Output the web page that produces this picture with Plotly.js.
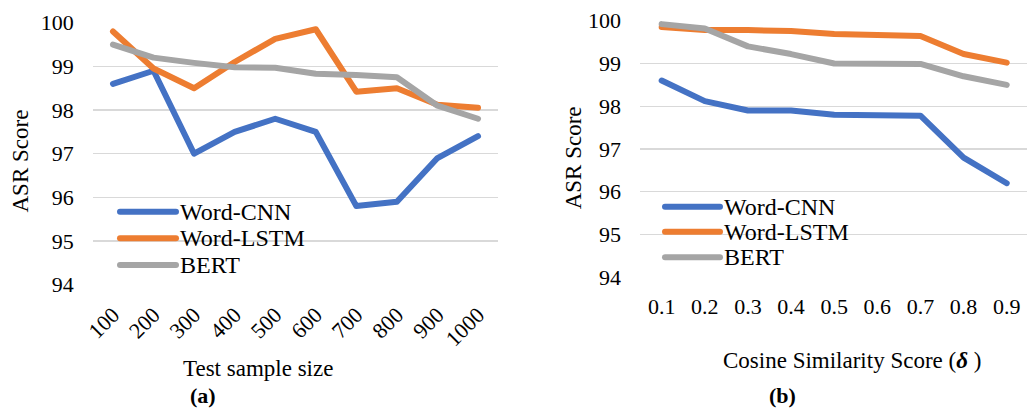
<!DOCTYPE html>
<html>
<head>
<meta charset="utf-8">
<script src="https://cdn.plot.ly/plotly-3.0.1.min.js"></script>
<style>
html,body{margin:0;padding:0;background:#fff;}
#chart{width:1027px;height:410px;}
.scatterlayer path.js-line{stroke-linejoin:round;stroke-linecap:round;}
.shapelayer path{stroke-linecap:round;}
</style>
</head>
<body>
<div id="chart"></div>
<script>
// ---- Data: panel (a) ----
const sampleSizes = ['100','200','300','400','500','600','700','800','900','1000'];
const cnnA  = [98.6, 98.9, 97.0, 97.5, 97.8, 97.5, 95.8, 95.9, 96.9, 97.4];
const lstmA = [99.8, 98.95, 98.5, 99.1, 99.63, 99.85, 98.42, 98.5, 98.12, 98.05];
const bertA = [99.5, 99.2, 99.08, 98.98, 98.97, 98.83, 98.8, 98.75, 98.1, 97.8];

// ---- Data: panel (b) ----
const cosineScores = ['0.1','0.2','0.3','0.4','0.5','0.6','0.7','0.8','0.9'];
const cnnB  = [98.6, 98.12, 97.9, 97.9, 97.8, 97.8, 97.78, 96.8, 96.2];
const lstmB = [99.85, 99.78, 99.78, 99.76, 99.69, 99.68, 99.64, 99.22, 99.02];
const bertB = [99.92, 99.82, 99.4, 99.22, 99.0, 98.99, 98.99, 98.7, 98.5];

const seriesNames = ['Word-CNN','Word-LSTM','BERT'];
const yTicks = [94, 95, 96, 97, 98, 99, 100];

const colors = ['#4472C4','#ED7D31','#A5A5A5'];
const FONT = '"Liberation Serif", "Times New Roman", Times, serif';
const W = 1027, H = 410;
const px = v => v / W;
const py = v => (H - v) / H;
const LW = 6;

function mk(x, y, i, xa, ya) {
  return {
    x: x, y: y, name: seriesNames[i], type: 'scatter', mode: 'lines',
    line: {color: colors[i], width: LW},
    xaxis: xa, yaxis: ya, cliponaxis: false, hoverinfo: 'skip', showlegend: false
  };
}

const traces = [
  mk(sampleSizes, cnnA, 0, 'x', 'y'),
  mk(sampleSizes, lstmA, 1, 'x', 'y'),
  mk(sampleSizes, bertA, 2, 'x', 'y'),
  mk(cosineScores, cnnB, 0, 'x2', 'y2'),
  mk(cosineScores, lstmB, 1, 'x2', 'y2'),
  mk(cosineScores, bertB, 2, 'x2', 'y2')
];

const yBase = {
  range: [94, 100], tickvals: yTicks, ticktext: yTicks.map(String),
  showgrid: true, gridcolor: '#D9D9D9', gridwidth: 1.3,
  zeroline: false, showline: false, ticks: '',
  tickfont: {family: FONT, size: 22, color: '#000'},
  ticklabelstandoff: 18, fixedrange: true
};
const xBase = {
  type: 'category', showgrid: false, zeroline: false, showline: false, ticks: '',
  tickfont: {family: FONT, size: 22, color: '#000'}, fixedrange: true
};

// legend placement (pixels)
const legendA = {x0: 120, x1: 176, tx: 178, rows: [211.7, 238.3, 265]};
const legendB = {x0: 665, x1: 720, tx: 722, rows: [206.7, 231.7, 257.3]};

const shapes = [];
const annotations = [];
[legendA, legendB].forEach(L => {
  seriesNames.forEach((name, i) => {
    shapes.push({type: 'line', xref: 'paper', yref: 'paper',
      x0: px(L.x0), x1: px(L.x1), y0: py(L.rows[i]), y1: py(L.rows[i]),
      line: {color: colors[i], width: LW}});
    annotations.push({text: name, xref: 'paper', yref: 'paper',
      x: px(L.tx), y: py(L.rows[i]), xanchor: 'left', yanchor: 'middle',
      showarrow: false, font: {family: FONT, size: 24, color: '#000'}});
  });
});

annotations.push(
  {text: 'ASR Score', x: px(20), y: py(161.5), xref: 'paper', yref: 'paper',
   textangle: -90, showarrow: false, xanchor: 'center', yanchor: 'middle',
   font: {family: FONT, size: 23, color: '#000'}},
  {text: 'ASR Score', x: px(573), y: py(158.3), xref: 'paper', yref: 'paper',
   textangle: -90, showarrow: false, xanchor: 'center', yanchor: 'middle',
   font: {family: FONT, size: 23, color: '#000'}},
  {text: 'Test sample size', x: px(258), y: py(368), xref: 'paper', yref: 'paper',
   showarrow: false, xanchor: 'center', yanchor: 'middle',
   font: {family: FONT, size: 23, color: '#000'}},
  {text: '<b>(a)</b>', x: px(203), y: py(395), xref: 'paper', yref: 'paper',
   showarrow: false, xanchor: 'center', yanchor: 'middle',
   font: {family: FONT, size: 22, color: '#000'}},
  {text: 'Cosine Similarity Score (<b><i>δ</i></b> )', x: px(852), y: py(360), xref: 'paper', yref: 'paper',
   showarrow: false, xanchor: 'center', yanchor: 'middle',
   font: {family: FONT, size: 23, color: '#000'}},
  {text: '<b>(b)</b>', x: px(782), y: py(395), xref: 'paper', yref: 'paper',
   showarrow: false, xanchor: 'center', yanchor: 'middle',
   font: {family: FONT, size: 22, color: '#000'}}
);

const layout = {
  width: W, height: H,
  margin: {l: 0, r: 0, t: 0, b: 0},
  paper_bgcolor: '#fff', plot_bgcolor: 'rgba(0,0,0,0)',
  font: {family: FONT, color: '#000'},
  showlegend: false,
  xaxis: Object.assign({}, xBase, {
    domain: [px(92.7), px(498.3)], range: [-0.5, 9.5],
    tickangle: -45, ticklabelstandoff: 12, anchor: 'y'
  }),
  yaxis: Object.assign({}, yBase, {domain: [py(284.7), py(22.7)], anchor: 'x'}),
  xaxis2: Object.assign({}, xBase, {
    domain: [px(640.1), 1], range: [-0.5, 8.47],
    tickangle: 0, ticklabelstandoff: 14, anchor: 'y2'
  }),
  yaxis2: Object.assign({}, yBase, {domain: [py(277.3), py(20.7)], anchor: 'x2'}),
  shapes: shapes,
  annotations: annotations
};

Plotly.newPlot('chart', traces, layout, {staticPlot: true, displayModeBar: false});
</script>
</body>
</html>
